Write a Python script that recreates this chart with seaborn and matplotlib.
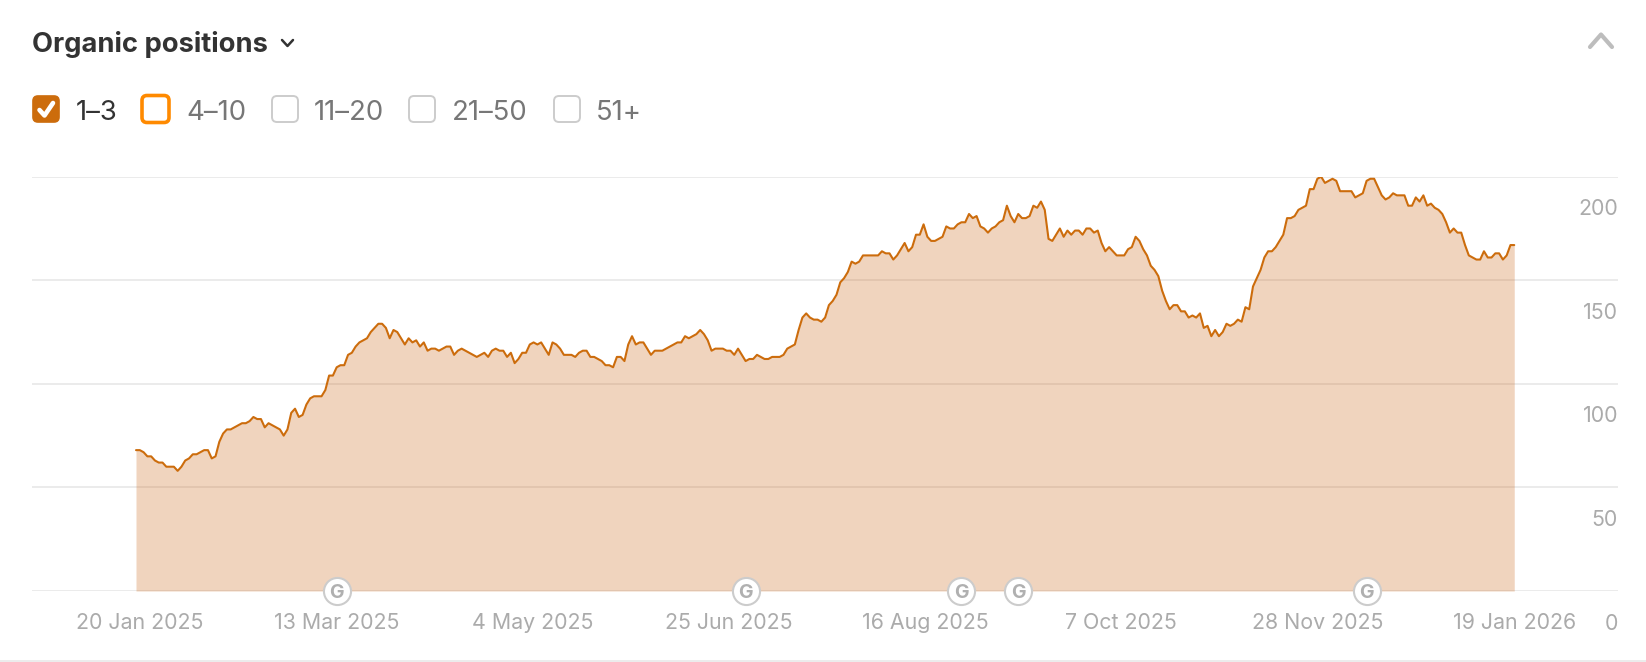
import numpy as np
import pandas as pd
import seaborn as sns
import matplotlib.pyplot as plt
import matplotlib.dates as mdates
from matplotlib.patches import FancyBboxPatch
from matplotlib.transforms import ScaledTranslation

# Posiciones orgánicas 1-3, un valor por día
positions = [
    68, 68, 67, 65, 65, 63, 62, 62, 60, 60, 60, 58, 60, 63, 64, 66, 66, 67, 68, 68,
    64, 65, 72, 76, 78, 78, 79, 80, 81, 81, 82, 84, 83, 83, 79, 81, 80, 79, 78, 75,
    78, 86, 88, 84, 85, 90, 93, 94, 94, 94, 97, 104, 104, 108, 109, 109, 114, 115, 118, 120,
    121, 122, 125, 127, 129, 129, 127, 122, 126, 125, 122, 119, 122, 120, 121, 118, 120, 116, 117, 117,
    116, 117, 118, 118, 114, 116, 117, 116, 115, 114, 113, 114, 115, 113, 116, 117, 116, 116, 113, 115,
    110, 112, 115, 115, 119, 120, 119, 120, 117, 114, 120, 119, 117, 114, 114, 114, 113, 115, 116, 116,
    113, 113, 112, 111, 109, 109, 108, 113, 113, 111, 119, 123, 119, 120, 120, 117, 114, 116, 116, 116,
    117, 118, 119, 120, 120, 123, 122, 123, 124, 126, 124, 121, 116, 117, 117, 117, 116, 116, 114, 117,
    114, 111, 112, 112, 114, 113, 112, 112, 113, 113, 113, 114, 117, 118, 119, 126, 132, 134, 132, 131,
    131, 130, 132, 138, 140, 143, 149, 151, 154, 159, 158, 159, 162, 162, 162, 162, 162, 164, 163, 163,
    160, 162, 165, 168, 164, 166, 172, 172, 177, 171, 169, 169, 170, 171, 176, 175, 175, 177, 178, 178,
    182, 180, 181, 176, 175, 173, 175, 176, 178, 179, 186, 181, 178, 182, 180, 180, 181, 186, 185, 188,
    184, 170, 169, 172, 175, 171, 174, 172, 174, 174, 172, 175, 175, 173, 174, 168, 164, 166, 164, 162,
    162, 162, 165, 166, 171, 169, 165, 162, 157, 155, 152, 145, 140, 136, 138, 138, 135, 135, 132, 133,
    132, 134, 127, 128, 123, 126, 123, 125, 129, 128, 129, 131, 130, 137, 136, 147, 151, 155, 161, 164,
    164, 166, 169, 172, 180, 180, 181, 184, 185, 186, 194, 194, 199, 200, 197, 198, 199, 198, 193, 193,
    193, 193, 190, 191, 192, 198, 199, 199, 195, 191, 189, 190, 192, 191, 191, 191, 186, 186, 190, 188,
    191, 186, 187, 185, 184, 182, 178, 173, 175, 173, 173, 167, 162, 161, 160, 160, 164, 161, 161, 163,
    163, 160, 162, 167, 167,
]
start_date = "2025-01-20"
tick_dates = ["2025-01-20", "2025-03-13", "2025-05-04", "2025-06-25",
              "2025-08-16", "2025-10-07", "2025-11-28", "2026-01-19"]
tick_labels = ["20 Jan 2025", "13 Mar 2025", "4 May 2025", "25 Jun 2025",
               "16 Aug 2025", "7 Oct 2025", "28 Nov 2025", "19 Jan 2026"]
y_ticks = [0, 50, 100, 150, 200]
update_dates = ["2025-03-14", "2025-06-30", "2025-08-26", "2025-09-10", "2025-12-11"]
filter_names = ["1–3", "4–10", "11–20", "21–50", "51+"]

W, H = 1646, 662
LINE = "#CC6C0C"
FILL = "#CD691C"
GRID = "#EBEBEB"
TICK = "#ABABAB"

sns.set_theme(style="white")
plt.rcParams['font.family'] = ['Inter', 'DejaVu Sans']

df = pd.DataFrame({
    "date": pd.date_range(start_date, periods=len(positions), freq="D"),
    "positions": positions,
})

fig = plt.figure(figsize=(W / 100, H / 100), dpi=100)
ax = fig.add_axes([32 / W, 1 - 591 / H, (1618 - 32) / W, (591 - 176.7) / H])

# Gráfico de área con la línea encima
ax.fill_between(df["date"], df["positions"], 0, color=FILL, alpha=0.285, lw=0, zorder=2)
sns.lineplot(data=df, x="date", y="positions", color=LINE, lw=1.5, ax=ax, zorder=3)

d0 = pd.Timestamp(start_date)
ax.set_xlim(d0 - pd.Timedelta(days=27.47), d0 + pd.Timedelta(days=391.4))
ax.set_ylim(0, 200)
ax.set_xlabel("")
ax.set_ylabel("")
for s in ax.spines.values():
    s.set_visible(False)

ax.set_yticks(y_ticks)
ax.yaxis.grid(True, color=GRID, lw=1.4, zorder=1)
ax.xaxis.grid(False)
ax.set_axisbelow(True)
ax.yaxis.tick_right()
ax.tick_params(axis="y", length=0, pad=0, labelsize=15.4, labelcolor=TICK)
down = ScaledTranslation(0, -30.5 / 100, fig.dpi_scale_trans)
for lab in ax.get_yticklabels():
    lab.set_ha("right")
    lab.set_transform(lab.get_transform() + down)

ax.set_xticks(pd.to_datetime(tick_dates))
ax.set_xticklabels(tick_labels)
ax.tick_params(axis="x", length=0, pad=16, labelsize=15.4, labelcolor=TICK)
# Las primeras etiquetas quedan un poco a la derecha de su fecha
label_nudge = [3.5, 3.5, 2.5, 2, 1.5, 0, 0, 0]
for lab, nudge in zip(ax.get_xticklabels(), label_nudge):
    lab.set_transform(lab.get_transform() + ScaledTranslation(nudge / 100, 0, fig.dpi_scale_trans))

# Marcadores de actualizaciones de Google
g_dates = pd.to_datetime(update_dates)
ax.scatter(g_dates, [0] * len(g_dates), s=380, facecolor="white", edgecolor="#CCCCCC",
           lw=1.5, clip_on=False, zorder=5)
for d in g_dates:
    ax.text(d, 0, "G", ha="center", va="center_baseline", fontsize=14, fontweight="bold",
            color="#B0B0B0", clip_on=False, zorder=6)

# Capa superior con la cabecera y los filtros
ui = fig.add_axes([0, 0, 1, 1], facecolor="none")
ui.set_xlim(0, W)
ui.set_ylim(H, 0)
ui.axis("off")

ui.text(32, 42, "Organic positions", fontsize=19.7, fontweight="bold", color="#333333",
        ha="left", va="center_baseline")
ui.plot([282, 287.5, 293], [40, 46, 40], color="#333333", lw=1.8)
ui.plot([1590, 1601, 1612], [47, 34.5, 47], color="#BDBDBD", lw=3)
ui.plot([0, W], [660.5, 660.5], color=GRID, lw=1.3)

box_x = [33, 142, 272, 409, 554]
label_x = [76, 186, 313.5, 452, 595.5]
for i, name in enumerate(filter_names):
    if i == 0:
        face, edge, lw, txt, size = LINE, LINE, 1.2, "#333333", 26
    elif i == 1:
        face, edge, lw, txt, size = "white", "#FF8A00", 2.6, "#777777", 27
    else:
        face, edge, lw, txt, size = "white", "#CCCCCC", 1.4, "#777777", 26
    ui.add_patch(FancyBboxPatch((box_x[i], 109 - size / 2), size, size,
                                boxstyle="round,pad=0,rounding_size=5",
                                fc=face, ec=edge, lw=lw))
    ui.text(label_x[i], 110, name, fontsize=19.8, color=txt, ha="left", va="center_baseline")
ui.plot([39.5, 44.5, 53], [110, 115.5, 103], color="white", lw=3.3)

fig.savefig("out.png", dpi=100)
